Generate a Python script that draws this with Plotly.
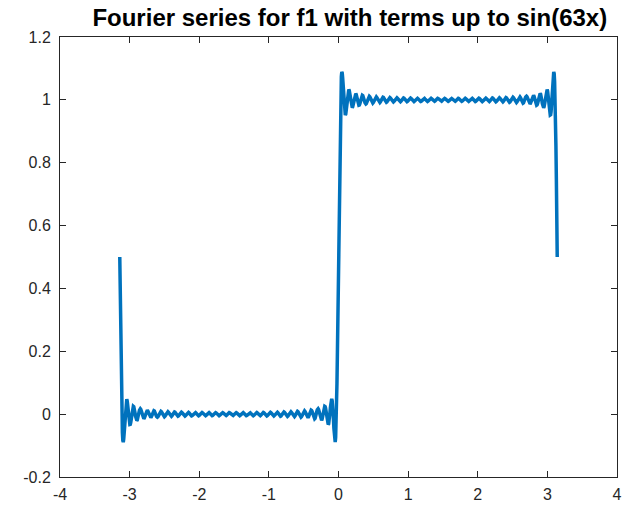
import numpy as np
import plotly.graph_objects as go

# Series definition (from the title): square wave f1, odd sine terms up to sin(63x)
harmonics = list(range(1, 64, 2))          # 1, 3, 5, ..., 63
constant_term = 0.5
x_start, x_end, n_samples = -np.pi, np.pi, 1000

x_tick_vals = [-4, -3, -2, -1, 0, 1, 2, 3, 4]
x_tick_text = ["-4", "-3", "-2", "-1", "0", "1", "2", "3", "4"]
y_tick_vals = [-0.2, 0, 0.2, 0.4, 0.6, 0.8, 1.0, 1.2]
y_tick_text = ["-0.2", "0", "0.2", "0.4", "0.6", "0.8", "1", "1.2"]

title_text = "Fourier series for f1 with terms up to sin(63x)"

x = np.linspace(x_start, x_end, n_samples)
y = constant_term + sum((2.0 / (k * np.pi)) * np.sin(k * x) for k in harmonics)

fig = go.Figure()
fig.add_trace(go.Scatter(x=x, y=y, mode="lines",
                         line=dict(color="#0072BD", width=3.5),
                         showlegend=False, hoverinfo="skip"))

axis_common = dict(showgrid=False, zeroline=False, showline=True,
                   linecolor="#262626", linewidth=1, mirror="ticks",
                   ticks="inside", ticklen=6, tickwidth=1, tickcolor="#262626",
                   automargin=False,
                   tickfont=dict(family="Liberation Sans, Arial, sans-serif",
                                 size=16, color="#262626"))

fig.update_layout(
    width=628, height=505,
    paper_bgcolor="white", plot_bgcolor="white",
    margin=dict(l=60, r=11, t=37, b=28),
    title=dict(text="<b>" + title_text + "</b>", x=0.557, xanchor="center",
               y=0.966, yanchor="middle",
               font=dict(family="Liberation Sans, Arial, sans-serif",
                         size=24, color="black")),
    xaxis=dict(range=[-4, 4], tickvals=x_tick_vals, ticktext=x_tick_text,
               ticklabelstandoff=3, **axis_common),
    yaxis=dict(range=[-0.2, 1.2], tickvals=y_tick_vals, ticktext=y_tick_text,
               ticklabelstandoff=5, **axis_common),
)

fig.write_html("out.html", config={"displayModeBar": False},
               post_script="document.body.style.margin='0';document.body.style.overflow='hidden';")
